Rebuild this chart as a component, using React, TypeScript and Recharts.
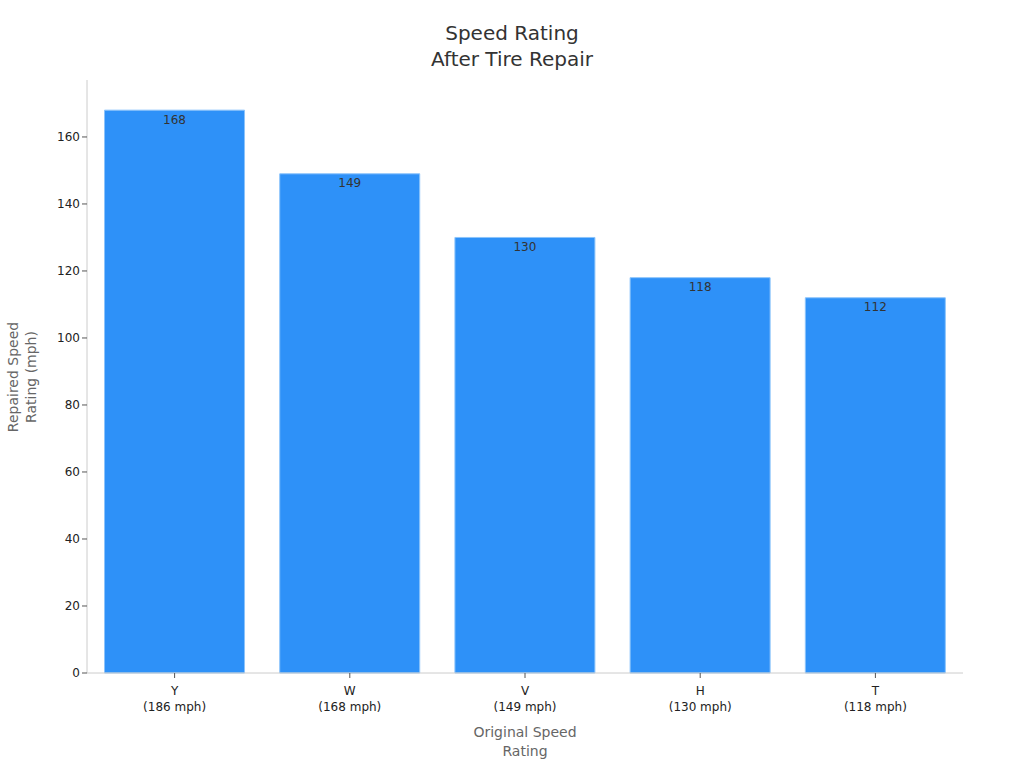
import React from 'react';
import { BarChart, Bar, XAxis, YAxis, LabelList, Label } from 'recharts';

const categories = ['Y', 'W', 'V', 'H', 'T'];
const originalSpeeds = ['(186 mph)', '(168 mph)', '(149 mph)', '(130 mph)', '(118 mph)'];
const repairedSpeeds = [168, 149, 130, 118, 112];
const yTicks = [0, 20, 40, 60, 80, 100, 120, 140, 160];

const data = categories.map((c, i) => ({ cat: c, sub: originalSpeeds[i], value: repairedSpeeds[i] }));

const FONT = '"DejaVu Sans", sans-serif';

const XTick = (props: any) => {
  const { x, y, payload, index } = props;
  return (
    <g transform={`translate(${x},${y})`}>
      <text x={0} y={0} textAnchor="middle" fontFamily={FONT} fontSize={12} fill="#222">
        <tspan x={0} dy={15}>{payload.value}</tspan>
        <tspan x={0} dy={16}>{originalSpeeds[index]}</tspan>
      </text>
    </g>
  );
};

export default function App() {
  return (
    <div style={{ position: 'absolute', left: 0, top: 0, width: 1024, height: 768, background: '#fff' }}>
      <BarChart
        width={1024}
        height={768}
        data={data}
        margin={{ top: 80, right: 61, bottom: 0, left: 29 }}
        barCategoryGap="10%"
      >
        <text x={512} y={40} textAnchor="middle" fontFamily={FONT} fontSize={20} fill="#333">
          Speed Rating
        </text>
        <text x={512} y={66} textAnchor="middle" fontFamily={FONT} fontSize={20} fill="#333">
          After Tire Repair
        </text>
        <XAxis
          dataKey="cat"
          tick={<XTick />}
          tickLine={{ stroke: '#555' }}
          tickSize={5}
          axisLine={{ stroke: '#ccc' }}
          interval={0}
          height={95}
        >
          <Label
            content={() => (
              <text x={525} y={737} textAnchor="middle" fontFamily={FONT} fontSize={14} fill="#666">
                <tspan x={525} dy={0}>Original Speed</tspan>
                <tspan x={525} dy={19}>Rating</tspan>
              </text>
            )}
          />
        </XAxis>
        <YAxis
          type="number"
          domain={[0, 177]}
          ticks={yTicks}
          tick={{ fontFamily: FONT, fontSize: 12, fill: '#222' }}
          tickLine={{ stroke: '#555' }}
          tickSize={5}
          axisLine={{ stroke: '#ccc' }}
          width={58}
        >
          <Label
            content={() => (
              <text
                transform="translate(22,377) rotate(-90)"
                textAnchor="middle"
                fontFamily={FONT}
                fontSize={14}
                fill="#666"
              >
                <tspan x={0} dy={-4}>Repaired Speed</tspan>
                <tspan x={0} dy={18}>Rating (mph)</tspan>
              </text>
            )}
          />
        </YAxis>
        <Bar dataKey="value" fill="#2E91F8" stroke="#8cc4fb" strokeWidth={1} isAnimationActive={false}>
          <LabelList
            dataKey="value"
            position="insideTop"
            offset={5}
            style={{ fontFamily: FONT, fontSize: 12, fill: '#333' }}
          />
        </Bar>
      </BarChart>
    </div>
  );
}
